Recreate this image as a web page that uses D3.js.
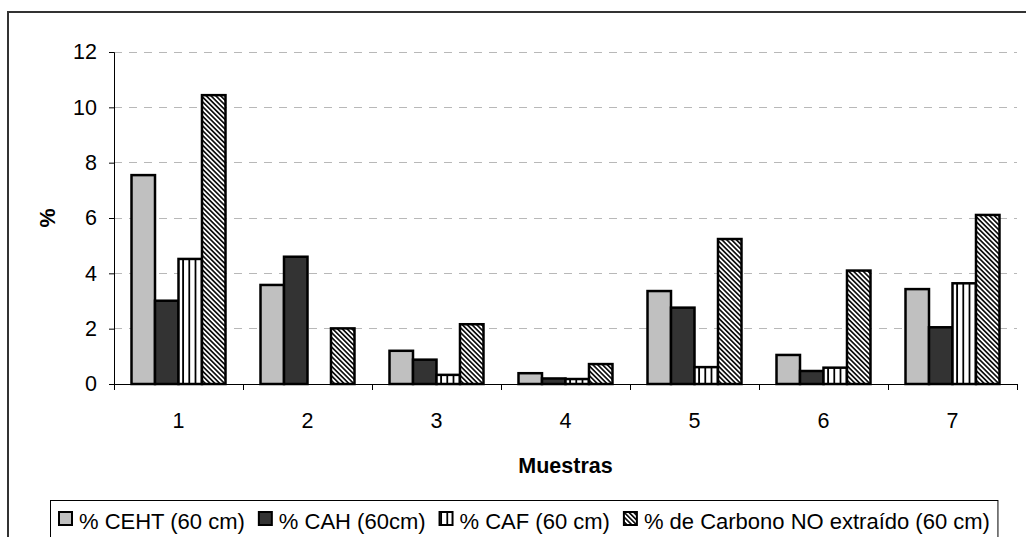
<!DOCTYPE html>
<html>
<head>
<meta charset="utf-8">
<script src="https://cdn.jsdelivr.net/npm/d3@7"></script>
<style>
  html, body { margin: 0; padding: 0; background: #fff; }
  svg { display: block; font-family: "Liberation Sans", Arial, sans-serif; }
</style>
</head>
<body>
<svg id="chart" width="1026" height="537"></svg>
<script>
// ---- data ----
const categories = ["1", "2", "3", "4", "5", "6", "7"];
const seriesNames = ["% CEHT (60 cm)", "% CAH (60cm)", "% CAF (60 cm)", "% de Carbono NO extraído (60 cm)"];
const ceht  = [7.55, 3.58, 1.20, 0.39, 3.36, 1.05, 3.43];
const cah   = [3.01, 4.60, 0.88, 0.20, 2.76, 0.47, 2.05];
const caf   = [4.52, 0.00, 0.33, 0.18, 0.61, 0.59, 3.64];
const noExt = [10.44, 2.01, 2.16, 0.72, 5.24, 4.10, 6.11];
const yTicks = [0, 2, 4, 6, 8, 10, 12];
const xTitle = "Muestras";
const yTitle = "%";

const seriesValues = [ceht, cah, caf, noExt];
const seriesKeys = ["ceht", "cah", "caf", "noext"];

// ---- layout ----
const svg = d3.select("#chart");
const plot = { left: 114, right: 1017, top: 52, bottom: 384 };
const FONT = 21.5;

// patterns
const defs = svg.append("defs");
const pv = defs.append("pattern").attr("id", "pat-caf")
  .attr("patternUnits", "userSpaceOnUse").attr("width", 6.2).attr("height", 10);
pv.append("rect").attr("width", 6.2).attr("height", 10).attr("fill", "#fff");
pv.append("rect").attr("x", 0).attr("width", 1.8).attr("height", 10).attr("fill", "#000");

const pd = defs.append("pattern").attr("id", "pat-no")
  .attr("patternUnits", "userSpaceOnUse").attr("width", 3.4).attr("height", 10)
  .attr("patternTransform", "rotate(-45)");
pd.append("rect").attr("width", 3.4).attr("height", 10).attr("fill", "#fff");
pd.append("rect").attr("x", 0).attr("width", 1.7).attr("height", 10).attr("fill", "#111");

const fills = {
  ceht: "#c0c0c0",
  cah: "#333333",
  caf: "url(#pat-caf)",
  noext: "url(#pat-no)"
};

// outer chart border
svg.append("rect")
  .attr("x", 8).attr("y", 12).attr("width", 1030).attr("height", 540)
  .attr("fill", "none").attr("stroke", "#333").attr("stroke-width", 2);

// scales
const x0 = d3.scaleBand().domain(categories).range([plot.left, plot.right]).padding(0);
const x1 = d3.scaleBand().domain(seriesKeys).range([0, x0.bandwidth()])
  .paddingInner(0).paddingOuter(0.745);
const y = d3.scaleLinear().domain([0, 12]).range([plot.bottom, plot.top]);

// gridlines
svg.append("g").selectAll("line").data(yTicks.filter(d => d > 0)).join("line")
  .attr("x1", plot.left).attr("x2", plot.right)
  .attr("y1", d => y(d)).attr("y2", d => y(d))
  .attr("stroke", "#b8b8b8").attr("stroke-width", 1)
  .attr("stroke-dasharray", "8,7")
  .attr("shape-rendering", "crispEdges");

// y axis
const yAxis = d3.axisLeft(y).tickValues(yTicks).tickSize(5).tickPadding(12).tickFormat(d3.format("d"));
const gy = svg.append("g").attr("transform", `translate(${plot.left},0)`).call(yAxis);
gy.select(".domain").attr("stroke", "#000");
gy.selectAll(".tick line").attr("stroke", "#000");
gy.selectAll("text").attr("font-size", FONT).attr("fill", "#000")
  .attr("font-family", "Liberation Sans, Arial, sans-serif");

// bars
const rows = categories.map((c, i) => ({ cat: c, vals: seriesKeys.map((k, j) => ({ key: k, v: seriesValues[j][i] })) }));
const groups = svg.append("g").selectAll("g").data(rows).join("g")
  .attr("transform", d => `translate(${x0(d.cat)},0)`);
groups.selectAll("rect").data(d => d.vals.filter(e => e.v > 0)).join("rect")
  .attr("x", d => x1(d.key))
  .attr("width", x1.bandwidth())
  .attr("y", d => y(d.v))
  .attr("height", d => y(0) - y(d.v))
  .attr("fill", d => fills[d.key])
  .attr("stroke", "#000").attr("stroke-width", 2.5);

// x axis
const xAxisLine = svg.append("g").attr("transform", `translate(0,${plot.bottom})`);
xAxisLine.append("line").attr("x1", plot.left).attr("x2", plot.right)
  .attr("y1", 0).attr("y2", 0).attr("stroke", "#000").attr("shape-rendering", "crispEdges");
const boundaries = categories.map(c => x0(c)).concat([x0(categories[categories.length - 1]) + x0.bandwidth()]);
xAxisLine.selectAll("line.tk").data(boundaries).join("line").attr("class", "tk")
  .attr("x1", d => d).attr("x2", d => d).attr("y1", 0).attr("y2", 6)
  .attr("stroke", "#000").attr("shape-rendering", "crispEdges");
xAxisLine.selectAll("text").data(categories).join("text")
  .attr("x", d => x0(d) + x0.bandwidth() / 2)
  .attr("y", 44)
  .attr("text-anchor", "middle")
  .attr("font-size", FONT).attr("fill", "#000")
  .text(d => d);

// axis titles
svg.append("text")
  .attr("x", (plot.left + plot.right) / 2).attr("y", 473)
  .attr("text-anchor", "middle").attr("font-size", FONT).attr("font-weight", "bold")
  .text(xTitle);
svg.append("text")
  .attr("transform", `translate(55,${(plot.top + plot.bottom) / 2}) rotate(-90)`)
  .attr("text-anchor", "middle").attr("font-size", FONT).attr("font-weight", "bold")
  .text(yTitle);

// legend
const legend = svg.append("g");
const legendBox = legend.append("rect")
  .attr("x", 50.5).attr("y", 500.5).attr("height", 40)
  .attr("fill", "#fff").attr("stroke", "#000").attr("stroke-width", 1);
let lx = 58;
seriesKeys.forEach((k, i) => {
  legend.append("rect")
    .attr("x", lx + 1).attr("y", 512)
    .attr("width", 13).attr("height", 13)
    .attr("fill", fills[k]).attr("stroke", "#000").attr("stroke-width", 2);
  const t = legend.append("text")
    .attr("x", lx + 21).attr("y", 528.5)
    .attr("font-size", 22).attr("fill", "#000")
    .text(seriesNames[i]);
  const w = t.node().getComputedTextLength();
  lx = lx + 21 + w + 13;
});
legendBox.attr("width", lx - 13 + 8 - 50.5);
</script>
</body>
</html>
